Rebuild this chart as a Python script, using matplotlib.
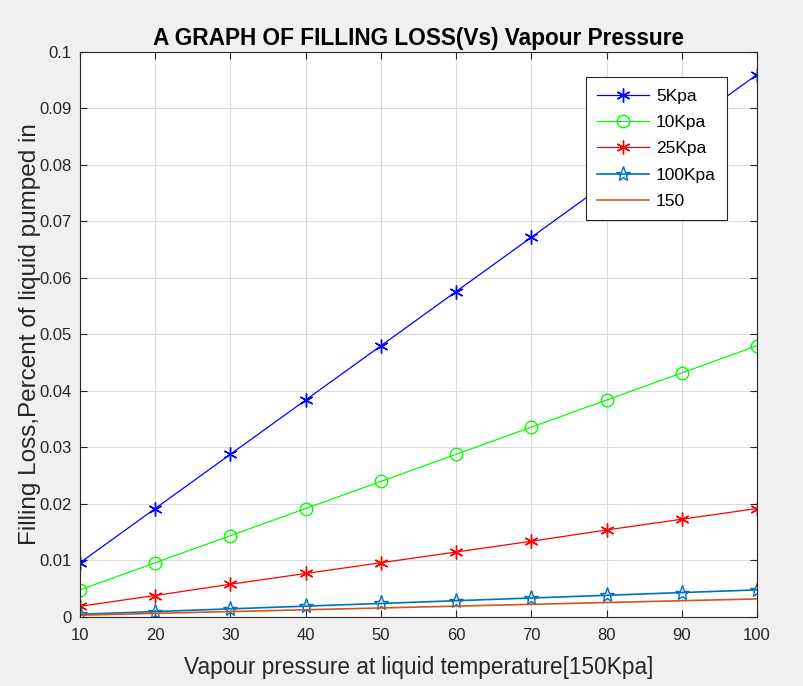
import matplotlib
matplotlib.use("Agg")
import matplotlib.pyplot as plt

plt.rcParams['font.family'] = ['Liberation Sans', 'DejaVu Sans']

# data
vp = [10, 20, 30, 40, 50, 60, 70, 80, 90, 100]
loss_5 = [0.0096, 0.0192, 0.0288, 0.0384, 0.0480, 0.0576, 0.0672, 0.0768, 0.0864, 0.0960]
loss_10 = [0.0048, 0.0096, 0.0144, 0.0192, 0.0240, 0.0288, 0.0336, 0.0384, 0.0432, 0.0480]
loss_25 = [0.0019, 0.0038, 0.0058, 0.0077, 0.0096, 0.0115, 0.0134, 0.0154, 0.0173, 0.0192]
loss_100 = [0.00048, 0.00096, 0.00144, 0.00192, 0.0024, 0.00288, 0.00336, 0.00384, 0.00432, 0.0048]
loss_150 = [0.00032, 0.00064, 0.00096, 0.00128, 0.0016, 0.00192, 0.00224, 0.00256, 0.00288, 0.0032]
labels = ['5Kpa', '10Kpa', '25Kpa', '100Kpa', '150']

fig = plt.figure(figsize=(8.04, 6.86), dpi=100, facecolor='#f0f0f0')
ax = fig.add_axes([0.0995, 0.1006, 0.842, 0.8236])

asterisk = (6, 2, 0)
ax.plot(vp, loss_5, color='blue', lw=0.9, marker=asterisk, ms=10, mew=1.0, label=labels[0])
ax.plot(vp, loss_10, color=(0, 1, 0), lw=0.9, marker='o', ms=9, mfc='none', mew=1.0, label=labels[1])
ax.plot(vp, loss_25, color='red', lw=0.9, marker=asterisk, ms=10, mew=1.0, label=labels[2])
ax.plot(vp, loss_100, color=(0, 0.447, 0.741), lw=1.2, marker='*', ms=11, mfc='none', mew=1.0, label=labels[3])
ax.plot(vp, loss_150, color=(0.85, 0.325, 0.098), lw=1.2, label=labels[4])

ax.set_xlim(10, 100)
ax.set_ylim(0, 0.1)
ax.set_xticks(vp)
ax.set_yticks([0, 0.01, 0.02, 0.03, 0.04, 0.05, 0.06, 0.07, 0.08, 0.09, 0.1])
ax.set_yticklabels(['0', '0.01', '0.02', '0.03', '0.04', '0.05', '0.06', '0.07', '0.08', '0.09', '0.1'])
ax.grid(True, color='#dcdcdc', lw=0.8)
ax.set_axisbelow(True)
ax.tick_params(labelsize=12, direction='in', length=5, top=True, right=True, colors='#262626')
ax.tick_params(axis='x', pad=8)
ax.tick_params(axis='y', pad=6)
for s in ax.spines.values():
    s.set_color('#262626')
    s.set_linewidth(0.8)

ax.set_title('A GRAPH OF FILLING LOSS(Vs) Vapour Pressure', fontsize=16.3, fontweight='bold', pad=5)
ax.set_xlabel('Vapour pressure at liquid temperature[150Kpa]', fontsize=16.3, color='#262626', labelpad=9)
ax.set_ylabel('Filling Loss,Percent of liquid pumped in', fontsize=17.5, color='#262626')
ax.yaxis.set_label_coords(-0.057, 0.5)

leg = ax.legend(loc='upper right', bbox_to_anchor=(0.956, 0.955), fontsize=12.5, fancybox=False,
                edgecolor='#262626', framealpha=1, handlelength=3.0, handletextpad=0.4,
                borderpad=0.65, labelspacing=0.64, borderaxespad=0)
leg.get_frame().set_linewidth(0.8)

fig.savefig('out.png', dpi=100, facecolor=fig.get_facecolor())
